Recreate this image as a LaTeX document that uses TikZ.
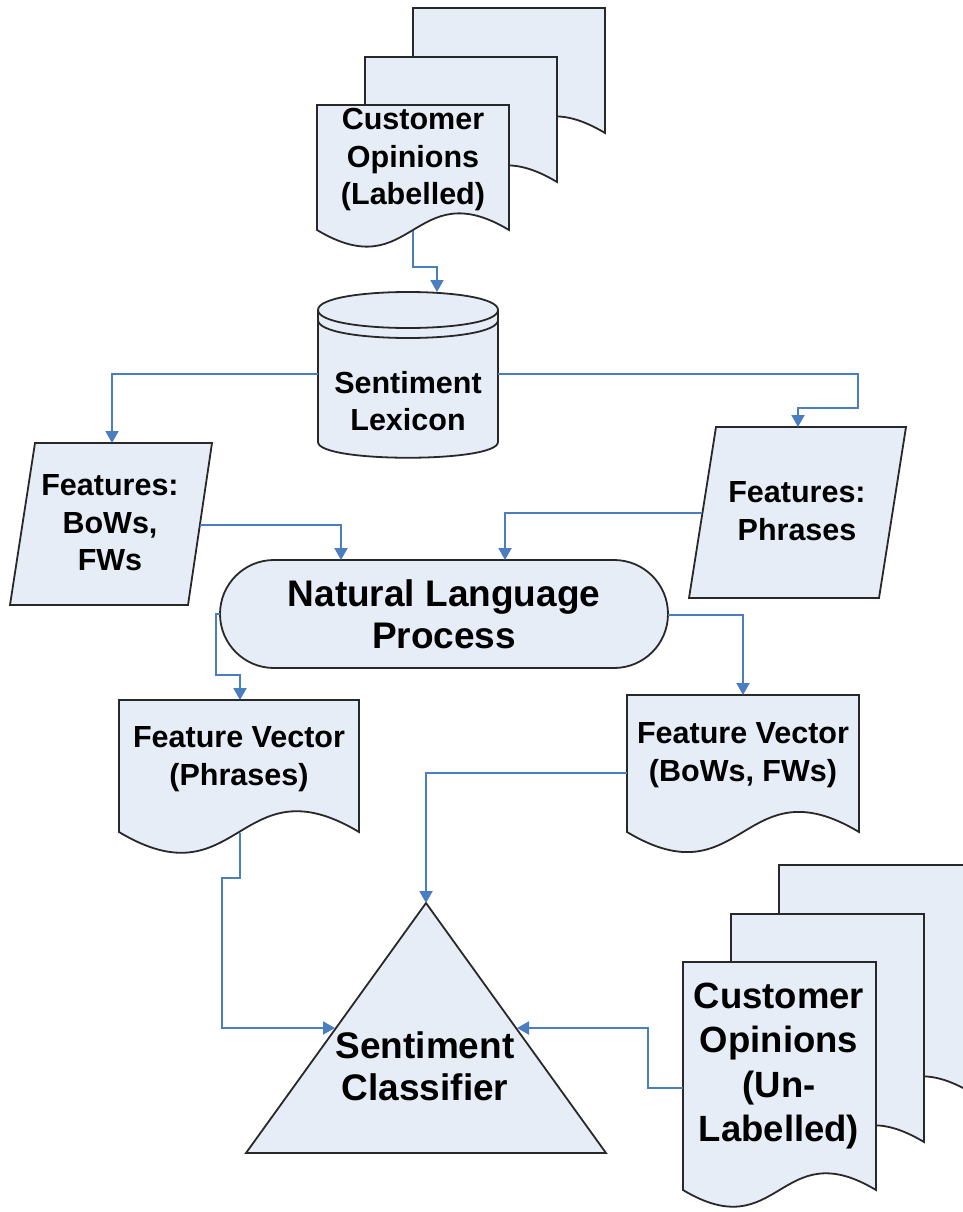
\documentclass[tikz,border=0pt]{standalone}
\usepackage{fontspec}
\setmainfont{Liberation Sans}
\usetikzlibrary{arrows.meta}
\definecolor{shapefill}{RGB}{231,237,247}
\definecolor{edge}{RGB}{40,40,40}
\definecolor{link}{RGB}{74,126,193}

% document sheet with a wavy lower edge: left, top, width, height
\newcommand\docsheet[4]{%
  \filldraw[box] (#1,#2) -- ({#1+#3},#2) -- ({#1+#3},{#2+#4})
    .. controls ({#1+0.5*#3},{#2+#4-0.3*#3}) and ({#1+0.5*#3},{#2+#4+0.3*#3}) .. (#1,{#2+#4}) -- cycle;}

\tikzset{
  box/.style={draw=edge, fill=shapefill, line width=1.8pt, line join=miter},
  conn/.style={draw=link, line width=2pt, -{Triangle[width=13pt,length=12pt]}},
  lbl/.style={font=\fontsize{30.5}{37.5}\selectfont\bfseries, align=center, inner sep=0pt},
  biglbl/.style={font=\fontsize{37}{42}\selectfont\bfseries, align=center, inner sep=0pt},
}

\begin{document}
\begin{tikzpicture}[x=1pt,y=-1pt]
\useasboundingbox (0,0) rectangle (963,1212);
\clip (0,0) rectangle (963,1212);

% labelled opinions: stack of three sheets
\docsheet{413}{8}{192}{125}
\docsheet{365}{57}{192}{125}
\docsheet{317}{105}{192}{125}
\node[lbl] (opl) at (413,160) {Customer\\Opinions\\(Labelled)};

% sentiment lexicon store
\filldraw[box] (318,310) -- (318,442) .. controls (318,463) and (498,463) .. (498,442)
  -- (498,310) .. controls (498,286) and (318,286) .. cycle;
\draw[box, fill=none] (318,310) .. controls (318,334) and (498,334) .. (498,310);
\draw[box, fill=none] (318,320) .. controls (318,344) and (498,344) .. (498,320);
\node[lbl] (lex) at (408,401) {Sentiment\\Lexicon};

% feature input sets
\filldraw[box] (35,443) -- (212,443) -- (188,605) -- (10,605) -- cycle;
\node[lbl] (fbw) at (110,523) {Features:\\BoWs,\\FWs};
\filldraw[box] (716,427) -- (906,427) -- (879,598) -- (689,598) -- cycle;
\node[lbl] (phr) at (797,511) {Features:\\Phrases};

% processing step
\node[box, rounded corners=54pt, minimum width=448pt, minimum height=108pt, inner sep=0pt,
      biglbl] (nlp) at (444,614) {Natural Language\\Process};

% feature vectors
\docsheet{119}{700}{240}{132}
\node[lbl] (fvp) at (239,759) {Feature Vector\\(Phrases)};
\docsheet{627}{695}{232}{137}
\node[lbl] (fvb) at (743,755) {Feature Vector\\(BoWs, FWs)};

% classifier
\filldraw[box] (426,903) -- (606,1153) -- (246,1153) -- cycle;
\node[biglbl] (cls) at (425,1066) {Sentiment\\Classifier};

% unlabelled opinions: stack of three sheets
\docsheet{779}{865}{193}{228}
\docsheet{731}{914}{193}{228}
\docsheet{683}{962}{193}{228}
\node[font=\fontsize{36.5}{44.3}\selectfont\bfseries, align=center, inner sep=0pt]
  (opu) at (779,1066) {Customer\\Opinions\\(Un-\\Labelled)};

% connection points
\coordinate (oplBot) at (413,231);
\coordinate (lexTop) at (437,292);
\coordinate (lexL) at (318,374);
\coordinate (lexR) at (498,374);
\coordinate (fbwTop) at (112,443);
\coordinate (fbwR) at (200,525);
\coordinate (phrTop) at (798,427);
\coordinate (phrL) at (702,513);
\coordinate (nlpIn1) at (341,560);
\coordinate (nlpIn2) at (505,560);
\coordinate (nlpL) at (220,614);
\coordinate (nlpR) at (668,615);
\coordinate (fvpTop) at (240,700);
\coordinate (fvpBot) at (240,833);
\coordinate (fvbTop) at (743,695);
\coordinate (fvbL) at (627,773);
\coordinate (clsTop) at (426,903);
\coordinate (clsL) at (335,1028);
\coordinate (clsR) at (517,1028);
\coordinate (opuL) at (683,1088);

% connectors
\draw[conn] (oplBot) -- ++(0,36) -| (lexTop);
\draw[conn] (lexL) -| (fbwTop);
\draw[conn] (lexR) -- ++(360,0) -- ++(0,34) -| (phrTop);
\draw[conn] (fbwR) -| (nlpIn1);
\draw[conn] (phrL) -| (nlpIn2);
\draw[conn] (nlpL) -- ++(-4,0) -- ++(0,61) -| (fvpTop);
\draw[conn] (nlpR) -| (fvbTop);
\draw[conn] (fvpBot) -- ++(0,45) -- ++(-18,0) |- (clsL);
\draw[conn] (fvbL) -| (clsTop);
\draw[conn] (opuL) -- ++(-35,0) |- (clsR);
\end{tikzpicture}
\end{document}
